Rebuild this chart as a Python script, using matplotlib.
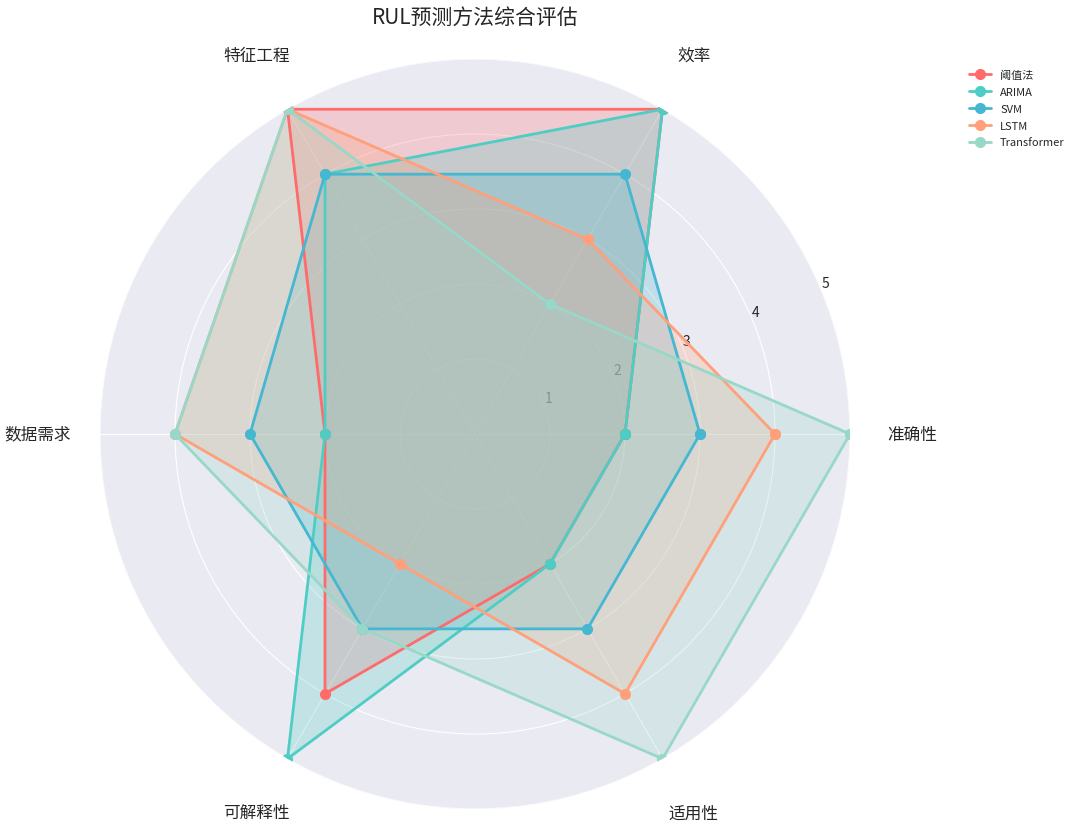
import numpy as np
import matplotlib
matplotlib.use("Agg")
import matplotlib.pyplot as plt

plt.style.use('seaborn-v0_8-darkgrid')
plt.rcParams['font.family'] = ['Noto Sans CJK SC', 'DejaVu Sans']
plt.rcParams['axes.unicode_minus'] = False

categories = ['准确性', '效率', '特征工程', '数据需求', '可解释性', '适用性']
methods = ['阈值法', 'ARIMA', 'SVM', 'LSTM', 'Transformer']
threshold_vals = [2, 5, 5, 2, 4, 2]
arima_vals = [2, 5, 4, 2, 5, 2]
svm_vals = [3, 4, 4, 3, 3, 3]
lstm_vals = [4, 3, 5, 4, 2, 4]
transformer_vals = [5, 2, 5, 4, 3, 5]
colors = ['#FF6B6B', '#4ECDC4', '#45B7D1', '#FFA07A', '#98D8C8']
radial_ticks = [1, 2, 3, 4, 5]

series = [threshold_vals, arima_vals, svm_vals, lstm_vals, transformer_vals]

fig = plt.figure(figsize=(10.8, 8.29), dpi=100)
ax = fig.add_axes([100/1080, 19/829, 750/1080, 750/829], projection='polar')

angles = np.linspace(0, 2*np.pi, len(categories), endpoint=False).tolist()
angles_closed = angles + angles[:1]

for name, vals, c in zip(methods, series, colors):
    v = list(vals) + [vals[0]]
    ax.plot(angles_closed, v, 'o-', linewidth=2, markersize=7, color=c, label=name)
    ax.fill(angles_closed, v, alpha=0.25, color=c)

ax.set_xticks(angles)
ax.set_xticklabels(categories, fontsize=12)
ax.tick_params(axis='x', pad=38)
ax.set_ylim(0, 5)
ax.set_yticks(radial_ticks)
ax.set_yticklabels([str(t) for t in radial_ticks], fontsize=10)
ax.set_title('RUL预测方法综合评估', fontsize=15, pad=26)

ax.legend(loc='upper left', bbox_to_anchor=(0.888, 0.927), bbox_transform=fig.transFigure,
          fontsize=8, labelspacing=0.62, frameon=False)

fig.savefig('out.png', dpi=100)
